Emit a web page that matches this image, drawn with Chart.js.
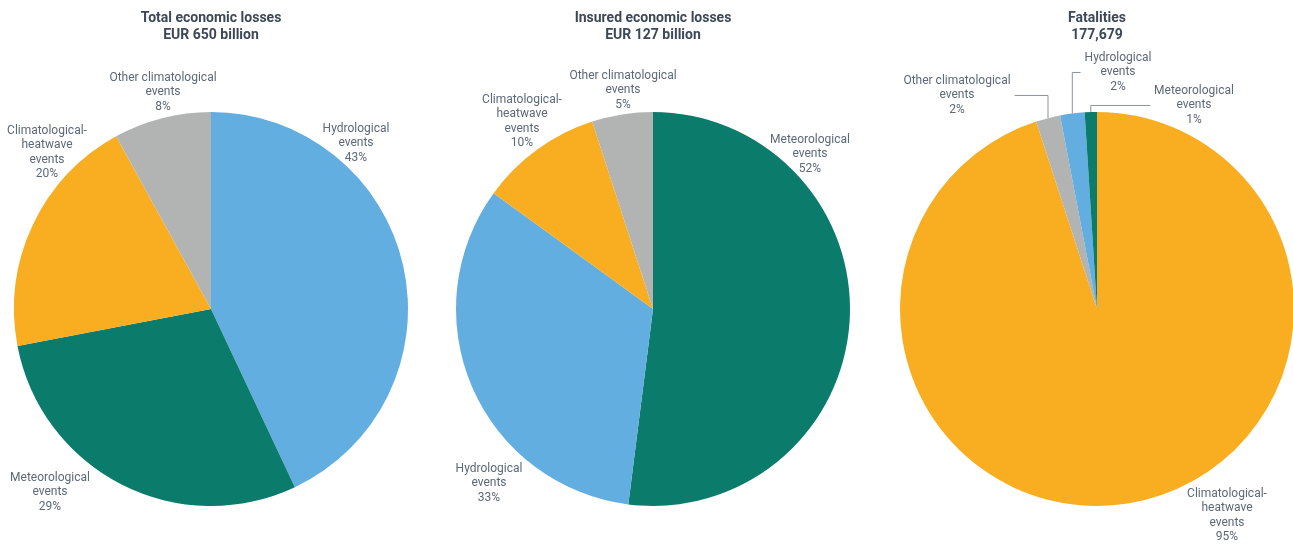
<!DOCTYPE html>
<html>
<head>
    <meta charset="UTF-8">
    <script src="https://cdn.jsdelivr.net/npm/chart.js"></script>
    <style>
        html, body { margin: 0; padding: 0; background: #fff; }
        body { width: 1293px; height: 545px; position: relative; overflow: hidden; }
        .pie-box { position: absolute; top: 0; width: 422px; height: 545px; }
    </style>
</head>
<body>
    <div class="pie-box" style="left:0px"><canvas id="totalChart"></canvas></div>
    <div class="pie-box" style="left:442px"><canvas id="insuredChart"></canvas></div>
    <div class="pie-box" style="left:886px"><canvas id="fatalChart"></canvas></div>

    <script>
        // chart data
        const totalTitle = ['Total economic losses', 'EUR 650 billion'];
        const totalLabels = ['Hydrological events', 'Meteorological events', 'Climatological-heatwave events', 'Other climatological events'];
        const totalValues = [43, 29, 20, 8];

        const insuredTitle = ['Insured economic losses', 'EUR 127 billion'];
        const insuredLabels = ['Meteorological events', 'Hydrological events', 'Climatological-heatwave events', 'Other climatological events'];
        const insuredValues = [52, 33, 10, 5];

        const fatalTitle = ['Fatalities', '177,679'];
        const fatalLabels = ['Climatological-heatwave events', 'Other climatological events', 'Hydrological events', 'Meteorological events'];
        const fatalValues = [95, 2, 2, 1];

        // styling
        const colorOf = {
            'Hydrological events': '#62aee0',
            'Meteorological events': '#0b7b6b',
            'Climatological-heatwave events': '#f9ae22',
            'Other climatological events': '#b2b3b3'
        };
        const textColor = '#5d6878';
        const titleColor = '#3c4858';
        const labelFont = '12px Roboto';

        // label anchor offsets from pie centre (x = text centre, y = first line)
        const totalLabelPos = [[145, -180], [-161, 169], [-164, -178], [-48, -231]];
        const insuredLabelPos = [[157, -169], [-164, 160], [-131, -209], [-30, -233]];
        const fatalLabelPos = [[130, 185], [-140, -228], [21, -251], [97, -218]];
        const fatalLeaders = [false, true, true, true];

        function splitLabel(name) {
            if (name.startsWith('Climatological-')) return ['Climatological-', 'heatwave', 'events'];
            return [name.replace(/ events$/, ''), 'events'];
        }

        const labelPlugin = {
            id: 'sliceLabels',
            afterDraw(chart, args, opts) {
                const ctx = chart.ctx;
                const meta = chart.getDatasetMeta(0);
                const lineH = 14.5;
                ctx.save();
                ctx.font = labelFont;
                ctx.fillStyle = textColor;
                ctx.textAlign = 'center';
                ctx.textBaseline = 'middle';
                meta.data.forEach((arc, i) => {
                    const lines = splitLabel(chart.data.labels[i]).concat([chart.data.datasets[0].data[i] + '%']);
                    const tx = arc.x + opts.pos[i][0];
                    const ty = arc.y + opts.pos[i][1];
                    lines.forEach((ln, k) => ctx.fillText(ln, tx, ty + k * lineH));
                    if (opts.leaders && opts.leaders[i]) {
                        const mid = (arc.startAngle + arc.endAngle) / 2;
                        const px = arc.x + Math.cos(mid) * arc.outerRadius;
                        const py = arc.y + Math.sin(mid) * arc.outerRadius;
                        const halfW = Math.max(...lines.map(l => ctx.measureText(l).width)) / 2;
                        const ly = ty + lineH;
                        const ex = tx < px ? tx + halfW + 4 : tx - halfW - 4;
                        ctx.strokeStyle = '#8c939c';
                        ctx.lineWidth = 1;
                        ctx.beginPath();
                        ctx.moveTo(ex, ly);
                        ctx.lineTo(px, ly);
                        ctx.lineTo(px, py);
                        ctx.stroke();
                    }
                });
                ctx.restore();
            }
        };

        function makePie(id, title, labels, values, pos, leaders) {
            new Chart(document.getElementById(id), {
                type: 'pie',
                data: {
                    labels: labels,
                    datasets: [{
                        data: values,
                        backgroundColor: labels.map(l => colorOf[l]),
                        borderWidth: 0
                    }]
                },
                options: {
                    responsive: true,
                    maintainAspectRatio: false,
                    animation: false,
                    layout: { padding: { left: 14, right: 14, top: 0, bottom: 39 } },
                    plugins: {
                        legend: { display: false },
                        tooltip: { enabled: false },
                        title: {
                            display: true,
                            text: title,
                            color: titleColor,
                            font: { family: 'Roboto', size: 14, weight: 'bold', lineHeight: 1.22 },
                            padding: { top: 10, bottom: 67.8 }
                        },
                        sliceLabels: { pos: pos, leaders: leaders }
                    }
                },
                plugins: [labelPlugin]
            });
        }

        makePie('totalChart', totalTitle, totalLabels, totalValues, totalLabelPos, null);
        makePie('insuredChart', insuredTitle, insuredLabels, insuredValues, insuredLabelPos, null);
        makePie('fatalChart', fatalTitle, fatalLabels, fatalValues, fatalLabelPos, fatalLeaders);
    </script>
</body>
</html>
